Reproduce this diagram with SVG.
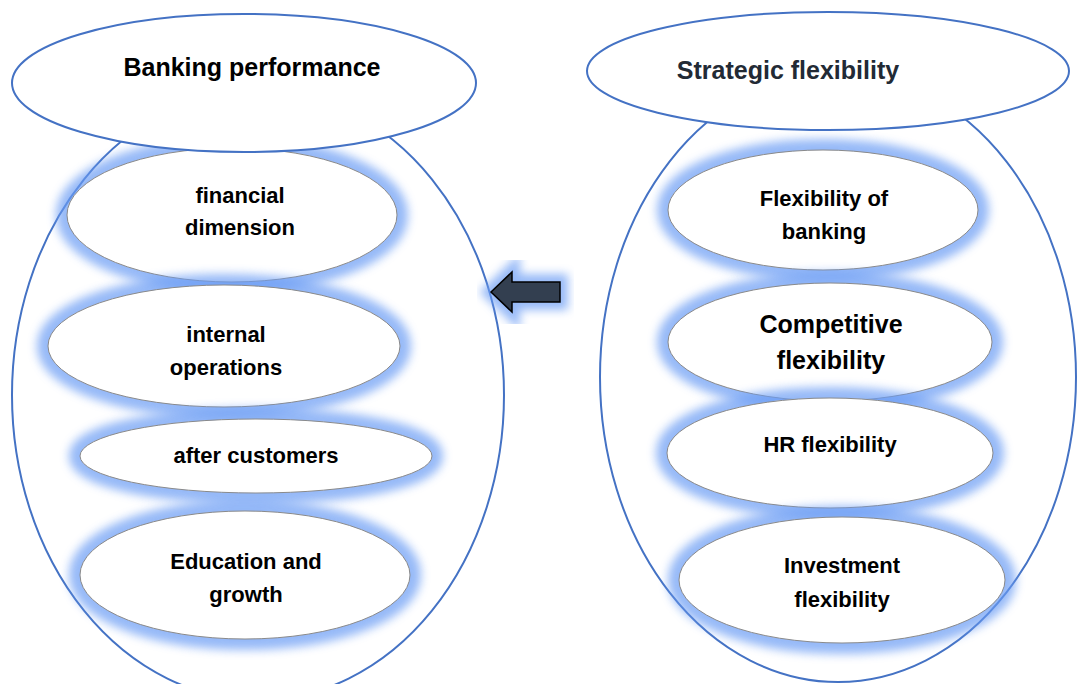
<svg xmlns="http://www.w3.org/2000/svg" width="1078" height="684" viewBox="0 0 1078 684">
<defs>
<filter id="glow" x="-20%" y="-30%" width="140%" height="160%"><feGaussianBlur stdDeviation="5"/></filter>
<style>
.big{fill:none;stroke:#4472c4;stroke-width:2}
.title{fill:#fff;stroke:#4472c4;stroke-width:2}
.halo{fill:none;stroke:#6b9cf4;stroke-width:22;opacity:0.7;filter:url(#glow)}
.inner{fill:#fff;stroke:#8a8a8a;stroke-width:1}
.t{font-family:"Liberation Sans",Arial,sans-serif;font-weight:bold;text-anchor:middle;fill:#000}
.tt{font-size:25px}
.ti{font-size:22px}
</style>
</defs>
<rect width="1078" height="684" fill="#fff"/>
<g id="container-left"><ellipse class="big" cx="258" cy="395" rx="246" ry="305"/></g>
<g id="container-right"><ellipse class="big" cx="838" cy="377" rx="238" ry="305"/></g>

<g id="financial"><ellipse class="halo" cx="232" cy="215" rx="165" ry="67"/><ellipse class="inner" cx="232" cy="215" rx="165" ry="67"/>
<text class="t ti" x="240" y="203">financial</text><text class="t ti" x="240" y="235">dimension</text></g>
<g id="internal"><ellipse class="halo" cx="224" cy="346" rx="176" ry="61"/><ellipse class="inner" cx="224" cy="346" rx="176" ry="61"/>
<text class="t ti" x="226" y="342">internal</text><text class="t ti" x="226" y="375">operations</text></g>
<g id="customers"><ellipse class="halo" cx="256" cy="456" rx="176" ry="37"/><ellipse class="inner" cx="256" cy="456" rx="176" ry="37"/>
<text class="t ti" x="256" y="463">after customers</text></g>
<g id="education"><ellipse class="halo" cx="245" cy="575" rx="165" ry="64"/><ellipse class="inner" cx="245" cy="575" rx="165" ry="64"/>
<text class="t ti" x="246" y="569">Education and</text><text class="t ti" x="246" y="602">growth</text></g>

<g id="flex-banking"><ellipse class="halo" cx="823" cy="210" rx="155" ry="60"/><ellipse class="inner" cx="823" cy="210" rx="155" ry="60"/>
<text class="t ti" x="824" y="206">Flexibility of</text><text class="t ti" x="824" y="239">banking</text></g>
<g id="competitive"><ellipse class="halo" cx="830" cy="342" rx="162" ry="59"/><ellipse class="inner" cx="830" cy="342" rx="162" ry="59"/>
<text class="t" style="font-size:25px" x="831" y="333">Competitive</text><text class="t" style="font-size:25px" x="831" y="369">flexibility</text></g>
<g id="hr"><ellipse class="halo" cx="830" cy="453" rx="163" ry="55"/><ellipse class="inner" cx="830" cy="453" rx="163" ry="55"/>
<text class="t ti" x="830" y="452">HR flexibility</text></g>
<g id="investment"><ellipse class="halo" cx="842" cy="580" rx="163" ry="63"/><ellipse class="inner" cx="842" cy="580" rx="163" ry="63"/>
<text class="t ti" x="842" y="573">Investment</text><text class="t ti" x="842" y="607">flexibility</text></g>

<g id="title-left"><ellipse class="title" cx="244" cy="83" rx="232" ry="69"/>
<text class="t tt" x="252" y="76">Banking performance</text></g>
<g id="title-right"><ellipse class="title" cx="828" cy="71" rx="241" ry="59"/>
<text class="t tt" x="788" y="79" style="fill:#222a35">Strategic flexibility</text></g>

<g id="connectors">
<path d="M491,292 L512,272 L512,282 L560,282 L560,302 L512,302 L512,312 Z" fill="none" stroke="#6b9cf4" stroke-width="16" opacity="0.7" filter="url(#glow)"/>
<path d="M491,292 L512,272 L512,282 L560,282 L560,302 L512,302 L512,312 Z" fill="#333f50" stroke="#000" stroke-width="1.5" stroke-linejoin="miter"/>
</g>
</svg>
